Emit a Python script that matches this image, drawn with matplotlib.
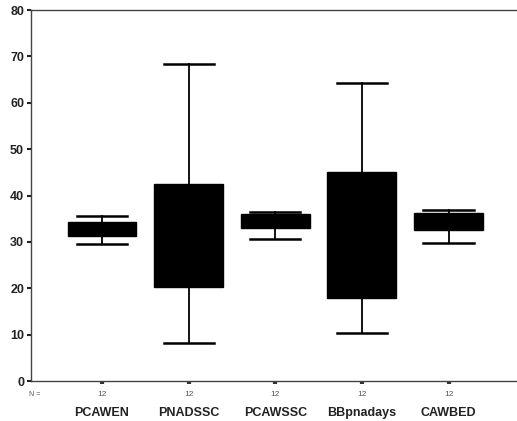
import matplotlib.pyplot as plt

# Values
groups = ['PCAWEN', 'PNADSSC', 'PCAWSSC', 'BBpnadays', 'CAWBED']
n_counts = [12, 12, 12, 12, 12]
whisker_low = [29.5, 8.1, 30.6, 10.4, 29.7]
q1 = [31.2, 20.2, 33.1, 17.8, 32.5]
median = [32.8, 31.0, 35.0, 30.0, 35.0]
q3 = [34.3, 42.5, 36.0, 45.1, 36.3]
whisker_high = [35.6, 68.3, 36.4, 64.3, 36.8]

yticks = [0, 10, 20, 30, 40, 50, 60, 70, 80]

plt.rcParams['font.family'] = ['Liberation Sans', 'DejaVu Sans']

fig = plt.figure(figsize=(5.17, 4.21), dpi=100)
ax = fig.add_axes([0.06, 0.095, 0.945, 0.881])

stats = []
for i, g in enumerate(groups):
    stats.append({'label': g, 'whislo': whisker_low[i], 'q1': q1[i], 'med': median[i],
                  'q3': q3[i], 'whishi': whisker_high[i], 'fliers': []})

positions = list(range(1, len(groups) + 1))
ax.bxp(stats, positions=positions, widths=0.795, patch_artist=True, showfliers=False,
       boxprops=dict(facecolor='black', edgecolor='black', linewidth=1),
       medianprops=dict(color='black', linewidth=1),
       whiskerprops=dict(color='black', linewidth=1.3),
       capprops=dict(color='black', linewidth=1.8),
       capwidths=0.58)

ax.set_xlim(0.18, 5.82)
ax.set_ylim(0, 80)
ax.set_yticks(yticks)
ax.set_yticklabels([str(t) for t in yticks], fontsize=9, fontweight='bold', color='#222222')
ax.tick_params(axis='y', direction='out', length=3, width=1.5, pad=2, colors='#222222')
ax.set_xticks(positions)
ax.set_xticklabels([])
ax.tick_params(axis='x', direction='out', length=2, width=3, colors='#333333')

for side in ['left', 'bottom', 'top']:
    ax.spines[side].set_color('#444444')
    ax.spines[side].set_linewidth(1)
ax.spines['right'].set_visible(False)

# N row and group names under the axis
ax.text(0.225, -0.028, 'N =', transform=ax.get_xaxis_transform(), fontsize=5,
        color='#555555', ha='center', va='top')
for p, n, g in zip(positions, n_counts, groups):
    ax.text(p, -0.028, str(n), transform=ax.get_xaxis_transform(), fontsize=6,
            color='#555555', ha='center', va='top')
    ax.text(p, -0.07, g, transform=ax.get_xaxis_transform(), fontsize=9,
            fontweight='bold', color='#222222', ha='center', va='top')

fig.savefig('out.png', dpi=100)
